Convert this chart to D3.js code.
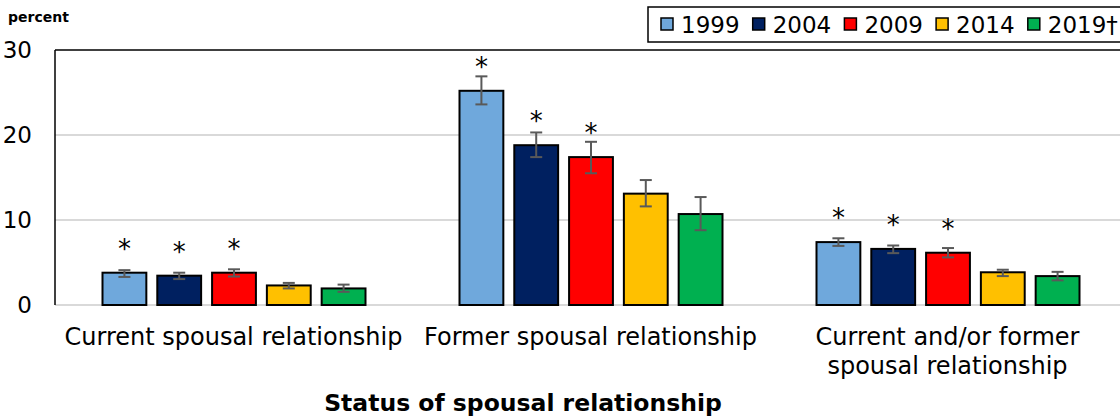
<!DOCTYPE html>
<html>
<head>
<meta charset="utf-8">
<script src="https://cdn.jsdelivr.net/npm/d3@7"></script>
<style>
  html, body { margin: 0; padding: 0; background: #fff; }
  svg { display: block; font-family: "DejaVu Sans", Verdana, sans-serif; }
</style>
</head>
<body>
<svg id="chart" width="1120" height="417"></svg>
<script>
// Status of spousal relationship, percent, by survey year
const categories = [
  ["Current spousal relationship"],
  ["Former spousal relationship"],
  ["Current and/or former", "spousal relationship"]
];
const years = ["1999", "2004", "2009", "2014", "2019\u2020"];
const colors = ["#6FA8DC", "#002060", "#FF0000", "#FFC000", "#00B050"];

// estimates per category, one value per year
const values = [
  [3.8, 3.45, 3.8, 2.3, 1.95],
  [25.2, 18.8, 17.4, 13.1, 10.7],
  [7.4, 6.6, 6.15, 3.85, 3.4]
];
// 95% confidence interval bounds
const lower = [
  [3.3, 3.05, 3.35, 1.95, 1.55],
  [23.6, 17.4, 15.5, 11.6, 8.8],
  [6.95, 6.1, 5.6, 3.4, 2.9]
];
const upper = [
  [4.1, 3.8, 4.2, 2.6, 2.4],
  [26.9, 20.3, 19.2, 14.7, 12.7],
  [7.85, 7.0, 6.7, 4.15, 3.9]
];
// significantly different from reference year (2019)
const significant = [
  [true, true, true, false, false],
  [true, true, true, false, false],
  [true, true, true, false, false]
];
const yTicks = [0, 10, 20, 30];

const svg = d3.select("#chart");
const plot = { left: 55, right: 1126, top: 50, bottom: 305 };

const x0 = d3.scaleBand()
  .domain(d3.range(categories.length))
  .range([plot.left, plot.right]);
const x1 = d3.scaleBand()
  .domain(d3.range(years.length))
  .range([47.5, x0.bandwidth() - 46.5])
  .paddingInner(0.2);
const y = d3.scaleLinear().domain([0, 30]).range([plot.bottom, plot.top]);

// gridlines
svg.append("g")
  .selectAll("line")
  .data(yTicks.filter(t => t > 0 && t < 30))
  .join("line")
  .attr("x1", plot.left).attr("x2", plot.right)
  .attr("y1", d => y(d)).attr("y2", d => y(d))
  .attr("stroke", "#d9d9d9").attr("stroke-width", 2);

// y axis labels
const yAxis = svg.append("g")
  .attr("transform", `translate(${plot.left},0)`)
  .call(d3.axisLeft(y).tickValues(yTicks).tickSize(0).tickPadding(23));
yAxis.select(".domain").remove();
yAxis.selectAll("text")
  .attr("font-family", "DejaVu Sans, Verdana, sans-serif")
  .attr("font-size", 23)
  .attr("fill", "#000");

// frame: bottom axis line, left and top borders
svg.append("line")
  .attr("x1", plot.left).attr("x2", plot.right)
  .attr("y1", plot.bottom).attr("y2", plot.bottom)
  .attr("stroke", "#d9d9d9").attr("stroke-width", 2);
svg.append("line")
  .attr("x1", plot.left).attr("x2", plot.left)
  .attr("y1", plot.top).attr("y2", plot.bottom)
  .attr("stroke", "#000").attr("stroke-width", 1.5);
svg.append("line")
  .attr("x1", plot.left).attr("x2", plot.right)
  .attr("y1", plot.top).attr("y2", plot.top)
  .attr("stroke", "#000").attr("stroke-width", 1.5);

// bars, error bars and significance markers
const groups = svg.append("g")
  .selectAll("g")
  .data(categories.map((c, i) => i))
  .join("g")
  .attr("transform", i => `translate(${x0(i)},0)`);

const cells = groups.selectAll("g")
  .data(i => years.map((yr, j) => ({
    j, v: values[i][j], lo: lower[i][j], hi: upper[i][j], sig: significant[i][j]
  })))
  .join("g");

cells.append("rect")
  .attr("x", d => x1(d.j))
  .attr("y", d => y(d.v))
  .attr("width", x1.bandwidth())
  .attr("height", d => y(0) - y(d.v))
  .attr("fill", d => colors[d.j])
  .attr("stroke", "#000")
  .attr("stroke-width", 2);

const cap = 6;
const errColor = "#595959";
cells.append("line")
  .attr("x1", d => x1(d.j) + x1.bandwidth() / 2)
  .attr("x2", d => x1(d.j) + x1.bandwidth() / 2)
  .attr("y1", d => y(d.lo)).attr("y2", d => y(d.hi))
  .attr("stroke", errColor).attr("stroke-width", 2);
cells.append("line")
  .attr("x1", d => x1(d.j) + x1.bandwidth() / 2 - cap)
  .attr("x2", d => x1(d.j) + x1.bandwidth() / 2 + cap)
  .attr("y1", d => y(d.lo)).attr("y2", d => y(d.lo))
  .attr("stroke", errColor).attr("stroke-width", 2);
cells.append("line")
  .attr("x1", d => x1(d.j) + x1.bandwidth() / 2 - cap)
  .attr("x2", d => x1(d.j) + x1.bandwidth() / 2 + cap)
  .attr("y1", d => y(d.hi)).attr("y2", d => y(d.hi))
  .attr("stroke", errColor).attr("stroke-width", 2);

cells.filter(d => d.sig)
  .append("text")
  .attr("x", d => x1(d.j) + x1.bandwidth() / 2)
  .attr("y", d => y(d.v) - 15)
  .attr("text-anchor", "middle")
  .attr("font-size", 26)
  .attr("fill", "#000")
  .text("*");

// category labels
const catLabels = svg.append("g")
  .selectAll("text")
  .data(categories)
  .join("text")
  .attr("x", (c, i) => x0(i) + x0.bandwidth() / 2)
  .attr("y", 345)
  .attr("text-anchor", "middle")
  .attr("font-size", 24)
  .attr("fill", "#000");
catLabels.selectAll("tspan")
  .data(c => c)
  .join("tspan")
  .attr("x", function () { return this.parentNode.getAttribute("x"); })
  .attr("dy", (d, k) => k === 0 ? 0 : 29)
  .text(d => d);

// axis titles
svg.append("text")
  .attr("x", 523).attr("y", 411)
  .attr("text-anchor", "middle")
  .attr("font-size", 23.5).attr("font-weight", "bold")
  .attr("fill", "#000")
  .text("Status of spousal relationship");
svg.append("text")
  .attr("x", 8).attr("y", 22)
  .attr("font-size", 14).attr("font-weight", "bold")
  .attr("fill", "#000")
  .text("percent");

// legend
const legend = svg.append("g");
legend.append("rect")
  .attr("x", 648).attr("y", 7)
  .attr("width", 500).attr("height", 35)
  .attr("fill", "#fff").attr("stroke", "#000").attr("stroke-width", 1.5);
const items = legend.selectAll("g.item")
  .data(years.map((yr, j) => j))
  .join("g")
  .attr("class", "item")
  .attr("transform", j => `translate(${661 + j * 91.7},0)`);
items.append("rect")
  .attr("x", 0).attr("y", 18)
  .attr("width", 12).attr("height", 12)
  .attr("fill", j => colors[j])
  .attr("stroke", "#000").attr("stroke-width", 1.5);
items.append("text")
  .attr("x", 20).attr("y", 33)
  .attr("font-size", 23)
  .attr("fill", "#000")
  .text(j => years[j]);
</script>
</body>
</html>
